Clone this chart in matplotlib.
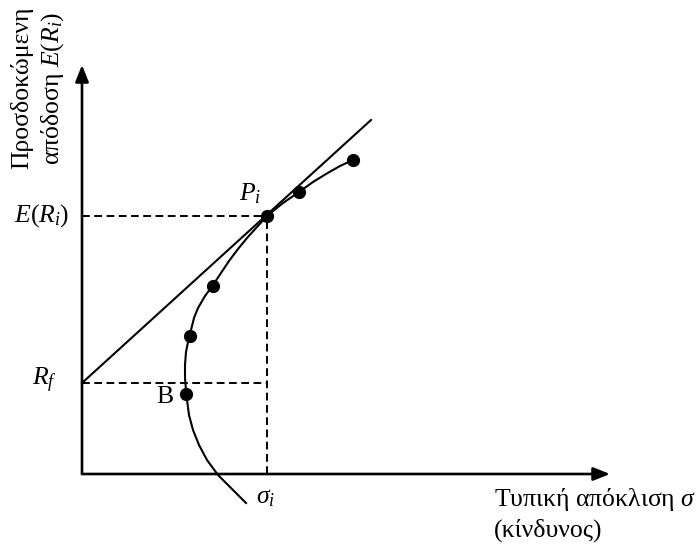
import matplotlib
matplotlib.use("Agg")
import matplotlib.pyplot as plt
from matplotlib.patches import FancyArrowPatch

plt.rcParams["font.family"] = ["Liberation Serif", "DejaVu Serif"]
plt.rcParams["mathtext.fontset"] = "custom"
plt.rcParams["mathtext.rm"] = "Liberation Serif"
plt.rcParams["mathtext.it"] = "Liberation Serif:italic"

# ---------------------------
# Data (σ = risk, E = expected return, arbitrary units)
# ---------------------------
risk_free = 91
sigma_i = 185
return_i = 258

# efficient frontier curve
curve_sigma = [164, 150, 136, 125, 117, 111, 107, 105, 104, 103, 103, 104, 106,
               109, 112, 116, 123, 131, 139, 147, 156, 165, 175, 185, 201, 217,
               231, 244, 258, 271]
curve_return = [-29, -15, -1, 14, 29, 44, 59, 74, 84, 96, 109, 122, 132,
                144, 156, 166, 178, 189, 201, 213, 225, 236, 247, 258, 271, 282,
                292, 300, 308, 314]

# portfolios marked on the curve
point_sigma = [104, 108, 131, 185, 217, 271]
point_return = [80, 138, 188, 258, 282, 314]

# capital market line (tangent through P_i)
line_sigma = [0, 289]
line_return = [risk_free, 354]

x_max = 528
y_max = 409

# ---------------------------
# Plot
# ---------------------------
fig = plt.figure(figsize=(6.98, 5.46), dpi=100)
ax = fig.add_axes([0, 0, 1, 1])
ax.set_xlim(-82, 616)
ax.set_ylim(-72, 474)
ax.axis("off")

# axes with arrows
for end in [(x_max, 0), (0, y_max)]:
    ax.add_patch(FancyArrowPatch((0, 0), end, arrowstyle="-|>,head_length=0.5,head_width=0.2",
                                 mutation_scale=20, color="black", lw=1.9,
                                 shrinkA=0, shrinkB=0))

# dashed guides
for xs, ys in [([0, sigma_i], [risk_free, risk_free]),
               ([0, sigma_i], [return_i, return_i]),
               ([sigma_i, sigma_i], [0, return_i])]:
    ax.plot(xs, ys, color="black", lw=1.4, dashes=(4, 2.3))

ax.plot(line_sigma, line_return, color="black", lw=1.5)
ax.plot(curve_sigma, curve_return, color="black", lw=1.5)
ax.plot(point_sigma, point_return, "o", color="black", markersize=8.5, linestyle="none")

# labels
fs = 18.5
ax.text(-13, return_i, r"$E(R_i)$", fontsize=fs, ha="right", va="center")
ax.text(-25, risk_free + 3, r"$R_f$", fontsize=fs, ha="right", va="center")
ax.text(83, 77, "B", fontsize=fs, ha="center", va="center")
ax.text(sigma_i - 1, -24, r"$\sigma_i$", fontsize=fs, ha="center", va="center")
ax.text(168, 280, r"$P_i$", fontsize=fs, ha="center", va="center")

ax.text(412, -12, "Τυπική απόκλιση $\\sigma$\n(κίνδυνος)", fontsize=fs,
        ha="left", va="top", linespacing=1.3)
ax.text(-44, 386, "Προσδοκώμενη\nαπόδοση $E(R_i)$", fontsize=fs, rotation=90,
        ha="center", va="center", multialignment="center", linespacing=1.3)

fig.savefig("out.png", dpi=100)
plt.close()
